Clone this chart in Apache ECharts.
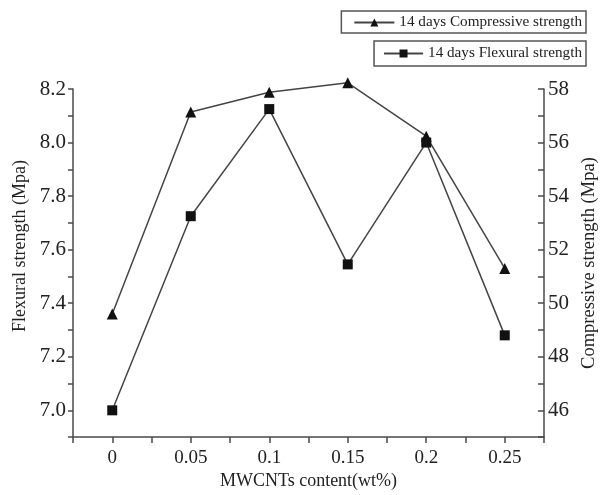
<!DOCTYPE html>
<html>
<head>
<meta charset="utf-8">
<script src="https://cdn.jsdelivr.net/npm/echarts@6/dist/echarts.min.js"></script>
<style>html,body{margin:0;padding:0;background:#fff;}#c{width:607px;height:495px;}</style>
</head>
<body>
<div id="c"></div>
<script>
const contents = [0, 0.05, 0.1, 0.15, 0.2, 0.25];
const flexural = [7.0, 7.725, 8.125, 7.545, 8.0, 7.28];
const compressive = [49.6, 57.14, 57.88, 58.23, 56.24, 51.3];
const flexLabels = ['7.0', '7.2', '7.4', '7.6', '7.8', '8.0', '8.2'];
const compLabels = ['46', '48', '50', '52', '54', '56', '58'];
const xLabels = ['0', '0.05', '0.1', '0.15', '0.2', '0.25'];

const FONT = '"Liberation Serif", "DejaVu Serif", serif';
const AXC = '#4a4a4a';
const chart = echarts.init(document.getElementById('c'), null, {renderer: 'canvas'});

function pick(labels, v, digits) {
  const s = v.toFixed(digits);
  return labels.indexOf(s) >= 0 ? s : '';
}

chart.setOption({
  animation: false,
  backgroundColor: '#fff',
  grid: {left: 73, right: 53, top: 89, bottom: 47, containLabel: false},
  legend: [
    {
      data: ['14 days Compressive strength'],
      right: 21, top: 11,
      orient: 'horizontal',
      padding: [4, 4, 3, 12],
      borderColor: '#555', borderWidth: 1.5, borderRadius: 0,
      itemWidth: 40, itemHeight: 10,
      textStyle: {fontFamily: FONT, fontSize: 15.2, color: '#222'}
    },
    {
      data: ['14 days Flexural strength'],
      right: 21, top: 41,
      padding: [5, 4, 5, 9],
      borderColor: '#555', borderWidth: 1.5, borderRadius: 0,
      itemWidth: 39, itemHeight: 10,
      textStyle: {fontFamily: FONT, fontSize: 15.2, color: '#222'}
    }
  ],
  xAxis: {
    type: 'value',
    min: -0.025, max: 0.275, interval: 0.025,
    name: 'MWCNTs content(wt%)',
    nameLocation: 'middle', nameGap: 28,
    nameTextStyle: {fontFamily: FONT, fontSize: 18, color: '#222'},
    axisLine: {show: true, onZero: false, lineStyle: {color: AXC, width: 1.5}},
    axisTick: {show: true, inside: false, length: 6, lineStyle: {color: AXC, width: 1.5}},
    axisLabel: {
      margin: 11, fontFamily: FONT, fontSize: 19, color: '#222',
      formatter: v => {
        const r = Math.round(v * 1000) / 1000;
        const s = String(r);
        return xLabels.indexOf(s) >= 0 ? s : '';
      }
    },
    splitLine: {show: false}
  },
  yAxis: [
    {
      type: 'value', position: 'left',
      min: 6.9, max: 8.2, interval: 0.1,
      name: 'Flexural strength (Mpa)',
      nameLocation: 'middle', nameGap: 38, nameRotate: 90,
      nameTextStyle: {fontFamily: FONT, fontSize: 18, color: '#222', padding: [0, 0, 0, 34]},
      axisLine: {show: true, onZero: false, lineStyle: {color: AXC, width: 1.5}},
      axisTick: {show: true, inside: false, length: 5, lineStyle: {color: AXC, width: 1.5}},
      axisLabel: {margin: 7, fontFamily: FONT, fontSize: 21, color: '#222',
        formatter: v => pick(flexLabels, v, 1)},
      splitLine: {show: false}
    },
    {
      type: 'value', position: 'right',
      min: 45, max: 58, interval: 1,
      name: 'Compressive strength (Mpa)',
      nameLocation: 'middle', nameGap: 36, nameRotate: 90,
      nameTextStyle: {fontFamily: FONT, fontSize: 18.5, color: '#222'},
      axisLine: {show: true, onZero: false, lineStyle: {color: AXC, width: 1.5}},
      axisTick: {show: true, inside: true, length: 6, lineStyle: {color: AXC, width: 1.5}},
      axisLabel: {margin: 4, fontFamily: FONT, fontSize: 21, color: '#222',
        formatter: v => pick(compLabels, v, 0)},
      splitLine: {show: false}
    }
  ],
  series: [
    {
      name: '14 days Compressive strength',
      type: 'line', yAxisIndex: 1, clip: false,
      data: contents.map((x, i) => [x, compressive[i]]),
      symbol: 'triangle', symbolSize: 11,
      lineStyle: {color: '#444', width: 1.5},
      itemStyle: {color: '#111'}
    },
    {
      name: '14 days Flexural strength',
      type: 'line', yAxisIndex: 0, clip: false,
      data: contents.map((x, i) => [x, flexural[i]]),
      symbol: 'rect', symbolSize: 10,
      lineStyle: {color: '#444', width: 1.5},
      itemStyle: {color: '#111'}
    }
  ]
});
</script>
</body>
</html>
